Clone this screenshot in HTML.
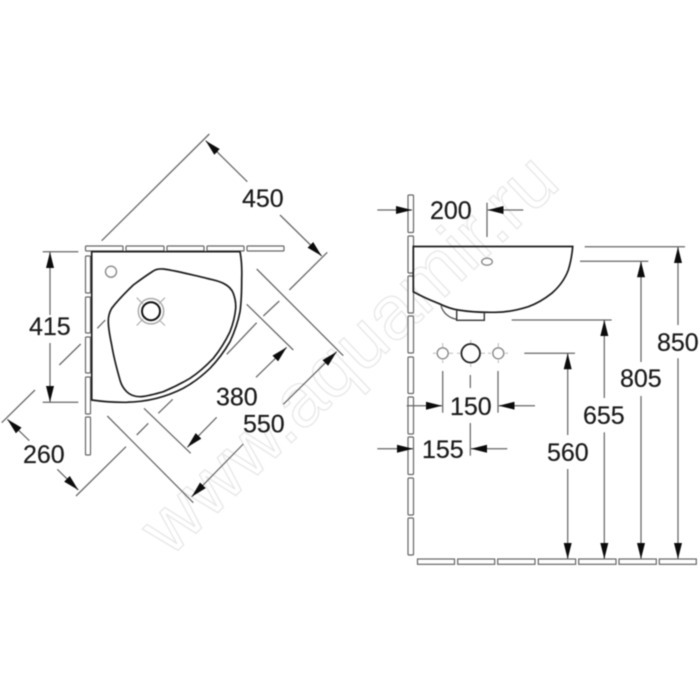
<!DOCTYPE html>
<html><head><meta charset="utf-8"><style>
html,body{margin:0;padding:0;background:#fff;width:700px;height:700px;overflow:hidden}
svg{display:block;filter:blur(.45px)}
text{font-family:"Liberation Sans",sans-serif;font-size:25px;fill:#1c1c1c;stroke:#1c1c1c;stroke-width:.2}
text.wm{font-size:76px;fill:#fff;stroke:#e9e9e9;stroke-width:1.4}
.d line{stroke:#666;stroke-width:1.25;fill:none}
.t rect{fill:#fff;stroke:#666;stroke-width:1.2}
.k{fill:none;stroke:#1c1c1c;stroke-width:1.7}
.g{fill:none;stroke:#8a8a8a;stroke-width:1.4}
</style></head><body>
<svg width="700" height="700" viewBox="0 0 700 700" xmlns="http://www.w3.org/2000/svg">
<defs><marker id="a" markerUnits="userSpaceOnUse" markerWidth="16" markerHeight="10" refX="16" refY="5" orient="auto"><path d="M0 1L16 5L0 9z" fill="#0c0c0c"/></marker></defs>
<text class="wm" transform="translate(170,558) rotate(-43.5)">www.aquamir.ru</text>

<g class="t">
<rect x="85.5" y="246" width="37.5" height="5" rx="1"/><rect x="126" y="246" width="38" height="5" rx="1"/><rect x="167" y="246" width="37" height="5" rx="1"/><rect x="207" y="246" width="37" height="5" rx="1"/><rect x="247" y="246" width="37" height="5" rx="1"/>
<rect x="85.5" y="256" width="5" height="37" rx="1"/><rect x="85.5" y="297" width="5" height="36" rx="1"/><rect x="85.5" y="337" width="5" height="36" rx="1"/><rect x="85.5" y="377" width="5" height="37" rx="1"/><rect x="85.5" y="417" width="5" height="38" rx="1"/>
<rect x="408" y="195" width="5.5" height="37.5" rx="1"/><rect x="408" y="236" width="5.5" height="37" rx="1"/><rect x="408" y="276" width="5.5" height="37" rx="1"/><rect x="408" y="316" width="5.5" height="37" rx="1"/><rect x="408" y="357" width="5.5" height="36.5" rx="1"/><rect x="408" y="397" width="5.5" height="37" rx="1"/><rect x="408" y="437" width="5.5" height="37.5" rx="1"/><rect x="408" y="478" width="5.5" height="37" rx="1"/><rect x="408" y="518" width="5.5" height="37" rx="1"/>
<rect x="417.5" y="559" width="37" height="5.3"/><rect x="457.7" y="559" width="37" height="5.3"/><rect x="497.7" y="559" width="37.3" height="5.3"/><rect x="538.3" y="559" width="37.3" height="5.3"/><rect x="578.7" y="559" width="37.3" height="5.3"/><rect x="619" y="559" width="37.3" height="5.3"/><rect x="659.3" y="559" width="37" height="5.3"/>
</g>

<!-- left: plan view -->
<path class="k" d="M91.7 251.7H240C242 262 242 270 241.7 278.3C241.7 290 241.5 301 240 311.7C238 322 234.5 332 230 341.7C224 352 218 360 210 368.3C202 376 193 383 183.3 388.3C175 392.5 166 396 156.7 398.3C146 401 134 402.3 123.3 402.3C112 402.3 102 401.5 91.7 400Z"/>
<path class="k" d="M153.3 271C156 269 160 268.8 163.3 269C178 271 192 275 206.7 278.3C213 280 218 280.5 223.3 283.3C229 286 232 290 233.3 293.3C235 298 236 303 235.7 308.3C235 316 233 324 230 331.7C225.5 341 220 350 213.3 358.3C206 366 198 373 190 378.3C182 383 172 388 163.3 391.7C155 394 147 396.5 140 396.7C134 396.7 130 395 126.7 391.7C123 388 121 384 120 380C116 366 113.5 356 111.7 345C110 337 108.5 329 108.3 321.7C108.2 316 109.5 312 111.7 308.3C118 300 126 292 133.3 285C140 280 147 275 153.3 271Z"/>
<circle class="g" cx="111" cy="271.7" r="5.5"/>
<path d="M136.7 297.7L143 304M159 320L165 325.5M136.7 325.5L143 319M159 303.5L165 297.7" fill="none" stroke="#aaa" stroke-width="1.1"/>
<circle cx="151" cy="311.2" r="12.7" fill="none" stroke="#aaa" stroke-width="1.5"/>
<circle cx="151" cy="311.2" r="9" fill="none" stroke="#111" stroke-width="2"/>

<g class="d">
<line x1="101.7" y1="240.7" x2="209.3" y2="134"/>
<line x1="247.3" y1="181.7" x2="205.7" y2="140.7" marker-end="url(#a)"/>
<line x1="280" y1="215" x2="321.7" y2="256" marker-end="url(#a)"/>
<line x1="289.3" y1="290" x2="327.3" y2="252.3"/>
<line x1="263.3" y1="316" x2="279.3" y2="301"/>
<line x1="226.7" y1="354.3" x2="256.7" y2="322.7"/>
<line x1="97.3" y1="328.3" x2="105.3" y2="320"/>
<line x1="59.3" y1="365" x2="80.7" y2="344"/>
<line x1="1.7" y1="422.7" x2="35" y2="390"/>
<line x1="29.3" y1="440.7" x2="7.3" y2="419.3" marker-end="url(#a)"/>
<line x1="57.3" y1="469.3" x2="78.3" y2="490" marker-end="url(#a)"/>
<line x1="76" y1="496" x2="126" y2="446.7"/>
<line x1="136.7" y1="435" x2="148.3" y2="423.3"/>
<line x1="158.3" y1="413.3" x2="172.7" y2="399.3"/>
<line x1="107.3" y1="416" x2="193.3" y2="502.7"/>
<line x1="256.7" y1="269" x2="343.3" y2="355.7"/>
<line x1="144" y1="408.3" x2="190.7" y2="453.3"/>
<line x1="246.7" y1="304.3" x2="293.3" y2="350"/>
<line x1="256" y1="377.3" x2="286.7" y2="347.3" marker-end="url(#a)"/>
<line x1="216.7" y1="417.3" x2="187.3" y2="447.3" marker-end="url(#a)"/>
<line x1="283.3" y1="404.3" x2="336.7" y2="351.7" marker-end="url(#a)"/>
<line x1="243.3" y1="444" x2="191.7" y2="496.7" marker-end="url(#a)"/>
<line x1="42.7" y1="251.7" x2="78.3" y2="251.7"/>
<line x1="42.7" y1="402.3" x2="78.3" y2="402.3"/>
<line x1="50" y1="315" x2="50" y2="252" marker-end="url(#a)"/>
<line x1="50" y1="343" x2="50" y2="402" marker-end="url(#a)"/>
</g>

<!-- right: side view -->
<path class="k" d="M413.3 246.5H572.7C572 255 570.5 263 568.3 270C565 279 559 287 551.7 293.3C544.5 299 537 303.5 528.3 306.7C518 310 506 312.3 495 312.3C482 312.5 470 312 458.3 310C451 309 445 306.5 438.3 303.3C430 300 421 296 413.3 291.7Z"/>
<path d="M441 305.7C443 313 449 318 456.7 319.3" fill="none" stroke="#555" stroke-width="1.3"/>
<path d="M456.7 310V320.3H484.3V312" fill="none" stroke="#333" stroke-width="1.4"/>
<ellipse class="g" cx="487" cy="261.7" rx="5.3" ry="3.5"/>
<circle class="g" cx="442.7" cy="353.3" r="5.5"/>
<circle class="g" cx="498.3" cy="353.3" r="5.5"/>
<circle cx="470.7" cy="353.3" r="9.3" fill="none" stroke="#222" stroke-width="1.8"/>
<path d="M433 353.3H436M449 353.3H453M442.7 343V347M442.7 360V363M457 353.3H460M481 353.3H485M488 353.3H491M505 353.3H508M498.3 343V347M498.3 360V363M470.7 340V343M470.7 364V367" fill="none" stroke="#bbb" stroke-width="1"/>
<g class="d">
<line x1="442.7" y1="371" x2="442.7" y2="412.7"/>
<line x1="498" y1="371" x2="498" y2="412.7"/>
<line x1="470.3" y1="375" x2="470.3" y2="388"/>
<line x1="470.3" y1="423" x2="470.3" y2="455.7"/>
<line x1="406.7" y1="405.7" x2="442" y2="405.7" marker-end="url(#a)"/>
<line x1="535" y1="405.7" x2="498.7" y2="405.7" marker-end="url(#a)"/>
<line x1="377.3" y1="448.7" x2="413" y2="448.7" marker-end="url(#a)"/>
<line x1="507.3" y1="448.7" x2="471" y2="448.7" marker-end="url(#a)"/>
<line x1="377.3" y1="210" x2="412" y2="210" marker-end="url(#a)"/>
<line x1="523.3" y1="210" x2="487.7" y2="210" marker-end="url(#a)"/>
<line x1="487" y1="202.7" x2="487" y2="237"/>
<line x1="584.7" y1="246.7" x2="685" y2="246.7"/>
<line x1="678" y1="325" x2="678" y2="247" marker-end="url(#a)"/>
<line x1="678" y1="358.3" x2="678" y2="559" marker-end="url(#a)"/>
<line x1="580" y1="261.3" x2="648.3" y2="261.3"/>
<line x1="641" y1="362" x2="641" y2="261.3" marker-end="url(#a)"/>
<line x1="641" y1="396" x2="641" y2="559" marker-end="url(#a)"/>
<line x1="511.7" y1="320" x2="611.7" y2="320"/>
<line x1="604.3" y1="398" x2="604.3" y2="320" marker-end="url(#a)"/>
<line x1="604.3" y1="432.3" x2="604.3" y2="559" marker-end="url(#a)"/>
<line x1="524.3" y1="353.3" x2="575" y2="353.3"/>
<line x1="567.7" y1="435" x2="567.7" y2="353.3" marker-end="url(#a)"/>
<line x1="567.7" y1="469" x2="567.7" y2="559" marker-end="url(#a)"/>
</g>

<text x="242" y="207">450</text>
<text x="29" y="335">415</text>
<text x="23" y="463">260</text>
<text x="216" y="405.7">380</text>
<text x="243" y="432.7">550</text>
<text x="430" y="219">200</text>
<text x="657" y="351">850</text>
<text x="620" y="387">805</text>
<text x="583" y="424">655</text>
<text x="547" y="461">560</text>
<text x="450" y="415">150</text>
<text x="422" y="458">155</text>
</svg>
</body></html>
